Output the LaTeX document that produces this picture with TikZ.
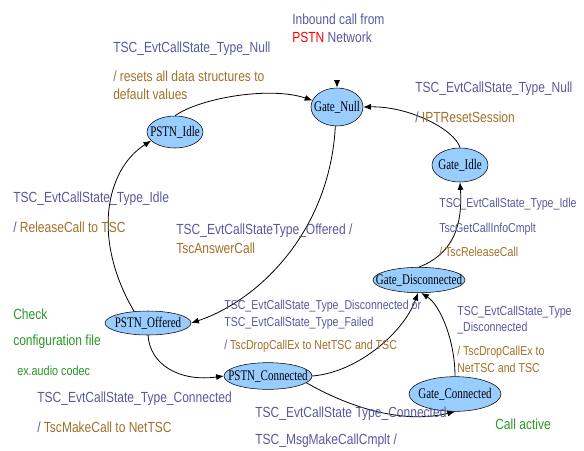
\documentclass[tikz,border=0pt]{standalone}
\usepackage{fontspec}
\setmainfont{Liberation Sans}[FakeStretch=0.82]
\newfontfamily\statefont{Liberation Serif}[FakeStretch=0.75]
\usetikzlibrary{shapes.geometric,arrows.meta}

\definecolor{evtblue}{RGB}{88,88,160}
\definecolor{actbrown}{RGB}{160,112,40}
\definecolor{notegreen}{RGB}{40,150,40}
\definecolor{statefill}{RGB}{153,204,255}

\begin{document}
\begin{tikzpicture}[
  x=0.75pt, y=-0.75pt,
  state/.style={ellipse, draw, fill=statefill, inner sep=0pt, font=\statefont\fontsize{11}{12}\selectfont},
  arrow/.style={-{Latex[length=2mm, width=1.6mm]}, line width=0.6pt},
  lbl/.style={anchor=west, inner sep=0pt, font=\fontsize{11}{13}\selectfont},
  small/.style={font=\fontsize{9.7}{12}\selectfont},
  evt/.style={lbl, text=evtblue},
  act/.style={lbl, text=actbrown},
  note/.style={lbl, text=notegreen},
]
\useasboundingbox (0,0) rectangle (584,450);

% === States ===
\node[state, minimum width=39pt, minimum height=28.5pt] (gnull) at (337,107) {\makebox[0pt]{Gate\_Null}};
\node[state, minimum width=42pt, minimum height=24pt] (pidle) at (175,132) {\makebox[0pt]{PSTN\_Idle}};
\node[state, minimum width=42pt, minimum height=25.5pt] (gidle) at (460,165) {\makebox[0pt]{Gate\_Idle}};
\node[state, minimum width=69pt, minimum height=19pt] (gdisc) at (419,280) {\makebox[0pt]{Gate\_Disconnected}};
\node[state, minimum width=64.5pt, minimum height=18pt] (poff) at (148,323) {\makebox[0pt]{PSTN\_Offered}};
\node[state, minimum width=66pt, minimum height=20pt] (pconn) at (268,376) {\makebox[0pt]{PSTN\_Connected}};
\node[state, minimum width=69pt, minimum height=26pt] (gconn) at (455,394) {\makebox[0pt]{Gate\_Connected}};

\coordinate (inb) at (337,80);

% === Transitions ===
\draw[arrow] (inb) -- (gnull);
\draw[arrow] (pidle.north) .. controls (200,98) and (270,86) .. (gnull.165);
\draw[arrow] (gnull.265) .. controls (330,230) and (260,300) .. (poff.east);
\draw[arrow] (poff.140) .. controls (92,240) and (105,170) .. (pidle.200);
\draw[arrow] (poff.south) .. controls (150,365) and (180,382) .. (pconn.west);
\draw[arrow] (pconn.east) .. controls (360,372) and (405,330) .. (gdisc.265);
\draw[arrow] (pconn.350) .. controls (345,405) and (400,425) .. (gconn.south);
\draw[arrow] (gconn.north) .. controls (455,340) and (440,305) .. (gdisc.280);
\draw[arrow] (gdisc.north) .. controls (450,255) and (463,230) .. (gidle.south);
\draw[arrow] (gidle.north) .. controls (455,130) and (410,106) .. (gnull.east);

% === Labels ===
\node[evt] (inb1) at (292,19) {Inbound call from};
\node[evt] (inb2) at (292,37) {\textcolor{red}{PSTN} Network};

\node[evt] (nl1) at (113,49) {TSC\_EvtCallState\_Type\_Null};
\node[act] (nl2) at (113,76) {/ resets all data structures to};
\node[act] (nl3) at (113,94) {default values};

\node[evt] (nr1) at (415,89) {TSC\_EvtCallState\_Type\_Null};
\node[evt] (nr2) at (415,117) {/ \textcolor{actbrown}{IPTResetSession}};

\node[evt] (il1) at (13,199) {TSC\_EvtCallState\_Type\_Idle};
\node[evt] (il2) at (13,227) {/ \textcolor{actbrown}{ReleaseCall to TSC}};

\node[evt] (of1) at (176,231) {TSC\_EvtCallStateType\_Offered /};
\node[act] (of2) at (176,248) {TscAnswerCall};

\node[evt, small] (ir1) at (439,204) {TSC\_EvtCallState\_Type\_Idle};
\node[evt, small] (ir2) at (439,229) {TscGetCallInfoCmplt};
\node[act, small] (ir3) at (439,252) {/ TscReleaseCall};

\node[note] (ck1) at (13,314) {Check};
\node[note] (ck2) at (13,342) {configuration file};
\node[note, font=\fontsize{9.9}{12}\selectfont] (ck3) at (17,371) {ex.audio codec};

\node[evt, small] (dc1) at (224,306) {TSC\_EvtCallState\_Type\_Disconnected or};
\node[evt, small] (dc2) at (224,323) {TSC\_EvtCallState\_Type\_Failed};
\node[evt, small] (dc3) at (224,346) {/ \textcolor{actbrown}{TscDropCallEx to NetTSC and TSC}};

\node[evt, small] (gd1) at (457,312) {TSC\_EvtCallState\_Type};
\node[evt, small] (gd2) at (457,328) {\_Disconnected};
\node[act, small] (gd3) at (457,352) {/ TscDropCallEx to};
\node[act, small] (gd4) at (457,368) {NetTSC and TSC};

\node[evt] (cn1) at (37,399) {TSC\_EvtCallState\_Type\_Connected};
\node[evt] (cn2) at (37,427) {/ \textcolor{actbrown}{TscMakeCall to NetTSC}};

\node[evt] (gc1) at (255,414) {TSC\_EvtCallState Type\_Connected};
\node[evt] (gc2) at (255,441) {TSC\_MsgMakeCallCmplt /};

\node[note] (ca) at (495,424) {Call active};

\end{tikzpicture}
\end{document}
